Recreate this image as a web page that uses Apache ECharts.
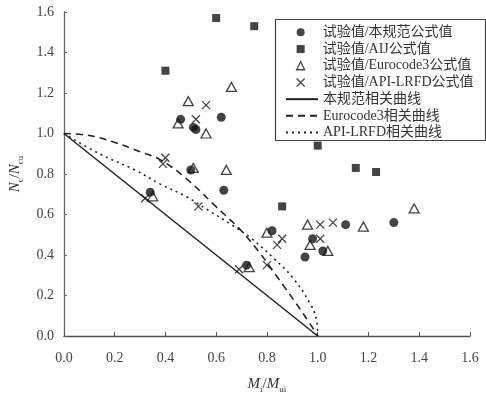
<!DOCTYPE html>
<html>
<head>
<meta charset="utf-8">
<script src="https://cdn.jsdelivr.net/npm/echarts@6/dist/echarts.min.js"></script>
<style>html,body{margin:0;padding:0;background:#fff;}#c{width:486px;height:399px;}</style>
</head>
<body>
<div id="c"></div>
<script>
// ---- data ----
var seriesNames = ['试验值/本规范公式值', '试验值/AIJ公式值', '试验值/Eurocode3公式值', '试验值/API-LRFD公式值', '本规范相关曲线', 'Eurocode3相关曲线', 'API-LRFD相关曲线'];
var xTicks = ['0.0','0.2','0.4','0.6','0.8','1.0','1.2','1.4','1.6'];
var yTicks = ['0.0','0.2','0.4','0.6','0.8','1.0','1.2','1.4','1.6'];

var codeX = [0.34, 0.46, 0.51, 0.52, 0.62, 0.50, 0.63, 0.72, 0.82, 0.98, 0.95, 1.02, 1.11, 1.30];
var codeY = [0.71, 1.07, 1.03, 1.02, 1.08, 0.82, 0.72, 0.35, 0.52, 0.48, 0.39, 0.42, 0.55, 0.56];

var aijX = [0.40, 0.60, 0.75, 0.86, 1.00, 1.15, 1.23];
var aijY = [1.31, 1.57, 1.53, 0.64, 0.94, 0.83, 0.81];

var euroX = [0.66, 0.49, 0.45, 0.56, 0.51, 0.64, 0.35, 0.73, 0.96, 0.80, 1.18, 1.38, 0.97, 1.04];
var euroY = [1.23, 1.16, 1.05, 1.00, 0.83, 0.82, 0.69, 0.34, 0.55, 0.51, 0.54, 0.63, 0.45, 0.42];

var apiX = [0.56, 0.52, 0.40, 0.39, 0.53, 0.32, 0.69, 1.01, 1.06, 0.86, 0.84, 1.01, 0.80];
var apiY = [1.14, 1.07, 0.88, 0.85, 0.64, 0.68, 0.33, 0.55, 0.56, 0.48, 0.45, 0.48, 0.35];

var codeCurveX = [0, 1];
var codeCurveY = [1, 0];
var euroCurveX = [0, 0.10, 0.19, 0.30, 0.38, 0.48, 0.59, 0.72, 0.87, 0.97, 1.00];
var euroCurveY = [1, 0.99, 0.96, 0.91, 0.87, 0.78, 0.65, 0.49, 0.24, 0.06, 0];
var apiCurveX = [0, 0.14, 0.28, 0.38, 0.48, 0.57, 0.66, 0.74, 0.83, 0.90, 0.97, 0.995, 1.00];
var apiCurveY = [1, 0.90, 0.82, 0.75, 0.69, 0.62, 0.55, 0.48, 0.38, 0.29, 0.16, 0.08, 0];

function zip(a, b) { return a.map(function (v, i) { return [v, b[i]]; }); }

var SERIF = '"Liberation Serif", "Noto Sans CJK SC", serif';
var INK = '#151515';
var crossPath = 'path://M0,0L10,10M0,10L10,0';
var ROW = 16.7;
var LEG_TOP = 24;

var subRich = {
  i: { fontFamily: SERIF, fontStyle: 'italic', fontSize: 15, lineHeight: 20, color: '#333' },
  n: { fontFamily: SERIF, fontSize: 15, lineHeight: 20, color: '#333' },
  s: { fontFamily: SERIF, fontSize: 9, lineHeight: 10, verticalAlign: 'bottom', color: '#333' }
};
var legendText = { fontFamily: SERIF, fontSize: 14, color: '#333', lineHeight: ROW };
var hiddenDot = { color: 'rgba(0,0,0,0)', borderColor: 'rgba(0,0,0,0)', borderWidth: 0 };

var chart = echarts.init(document.getElementById('c'), null, { renderer: 'canvas' });
var option = {
  backgroundColor: '#fff',
  animation: false,
  grid: { left: 54, right: 16, top: 12, bottom: 52 },
  graphic: [{
    type: 'rect', left: 273, top: 17, z: 10,
    shape: { width: 210, height: 121 },
    style: { fill: 'none', stroke: '#444', lineWidth: 1.2 }
  }],
  legend: [{
    orient: 'vertical', left: 296, top: LEG_TOP, padding: 0,
    itemWidth: 8, itemHeight: 8, itemGap: 0,
    textStyle: { fontFamily: SERIF, fontSize: 14, color: '#333', lineHeight: ROW, padding: [0, 0, 0, 13] },
    data: [
      { name: seriesNames[0], icon: 'circle', itemStyle: { color: INK, borderWidth: 0 } },
      { name: seriesNames[1], icon: 'rect', itemStyle: { color: INK, borderWidth: 0 } },
      { name: seriesNames[2], icon: 'triangle', itemStyle: { color: '#fff', borderColor: INK, borderWidth: 1.3 } },
      { name: seriesNames[3], icon: crossPath, itemStyle: { color: 'rgba(0,0,0,0)', borderColor: INK, borderWidth: 1.3 } }
    ]
  }, {
    orient: 'vertical', left: 285, top: LEG_TOP + 4 * ROW, padding: 0,
    itemWidth: 32, itemHeight: 7, itemGap: 0,
    textStyle: legendText,
    data: [
      { name: seriesNames[4], itemStyle: hiddenDot },
      { name: seriesNames[5], itemStyle: hiddenDot },
      { name: seriesNames[6], itemStyle: hiddenDot }
    ]
  }],
  xAxis: {
    type: 'value', min: 0, max: 1.6, interval: 0.2,
    name: '{i|M}{s|i}{n|/}{i|M}{s|ui}',
    nameLocation: 'middle', nameGap: 38,
    nameTextStyle: { rich: subRich },
    axisLine: { lineStyle: { color: '#555', width: 1.3 } },
    axisTick: { inside: true, length: 4, lineStyle: { color: '#555' } },
    splitLine: { show: false },
    axisLabel: {
      margin: 15, fontFamily: SERIF, fontSize: 14, color: '#444',
      formatter: function (v) { return xTicks[Math.round(v / 0.2)]; }
    }
  },
  yAxis: {
    type: 'value', min: 0, max: 1.6, interval: 0.2,
    name: '{i|N}{s|c}{n|/}{i|N}{s|cu}',
    nameLocation: 'middle', nameGap: 34, nameRotate: 90,
    nameTextStyle: { rich: subRich },
    axisLine: { lineStyle: { color: '#666', width: 1.3 } },
    axisTick: { inside: true, length: 3, lineStyle: { color: '#666' } },
    splitLine: { show: false },
    axisLabel: {
      margin: 10, fontFamily: SERIF, fontSize: 14, color: '#444',
      formatter: function (v) { return yTicks[Math.round(v / 0.2)]; }
    }
  },
  series: [
    { name: seriesNames[4], type: 'line', data: zip(codeCurveX, codeCurveY), symbol: 'none',
      lineStyle: { color: '#222', width: 1.5, type: 'solid' }, itemStyle: { color: '#222' }, z: 1 },
    { name: seriesNames[5], type: 'line', data: zip(euroCurveX, euroCurveY), symbol: 'none', smooth: 0.4,
      lineStyle: { color: '#222', width: 1.6, type: [7, 5] }, itemStyle: { color: '#222' }, z: 1 },
    { name: seriesNames[6], type: 'line', data: zip(apiCurveX, apiCurveY), symbol: 'none', smooth: 0.4,
      lineStyle: { color: '#222', width: 1.6, type: [2, 4] }, itemStyle: { color: '#222' }, z: 1 },
    { name: seriesNames[0], type: 'scatter', data: zip(codeX, codeY), symbol: 'circle', symbolSize: 9,
      itemStyle: { color: INK }, z: 3 },
    { name: seriesNames[1], type: 'scatter', data: zip(aijX, aijY), symbol: 'rect', symbolSize: 8,
      itemStyle: { color: INK }, z: 3 },
    { name: seriesNames[2], type: 'scatter', data: zip(euroX, euroY), symbol: 'triangle', symbolSize: [10, 9],
      itemStyle: { color: '#fff', borderColor: INK, borderWidth: 1.3 }, z: 2 },
    { name: seriesNames[3], type: 'scatter', data: zip(apiX, apiY), symbol: crossPath, symbolSize: 8,
      itemStyle: { color: 'rgba(0,0,0,0)', borderColor: INK, borderWidth: 1.3 }, z: 2 }
  ]
};
chart.setOption(option);
</script>
</body>
</html>
